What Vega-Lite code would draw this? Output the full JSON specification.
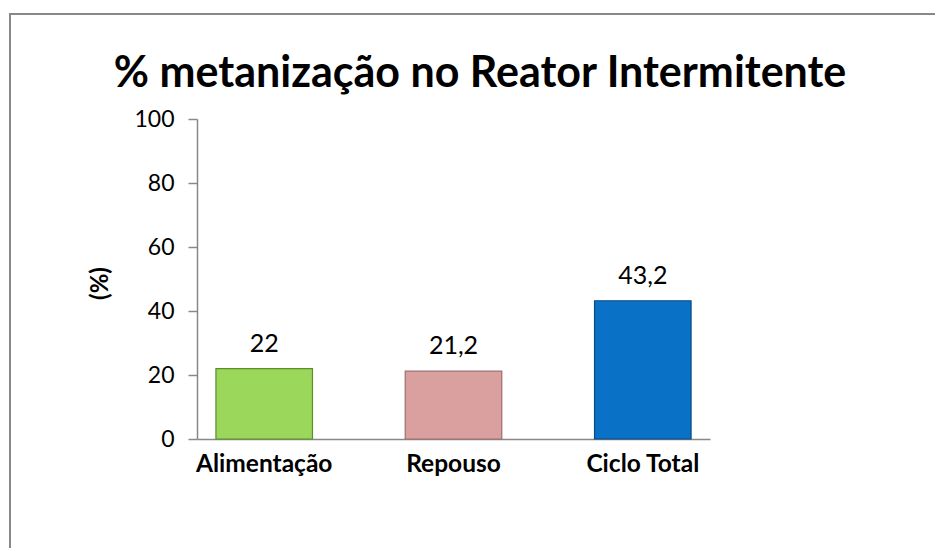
{
  "$schema": "https://vega.github.io/schema/vega-lite/v6.json",
  "width": 930,
  "height": 540,
  "padding": {"left": 10, "top": 14, "right": 0, "bottom": 0},
  "background": "white",
  "title": {
    "text": "% metanização no Reator Intermitente",
    "frame": "group",
    "anchor": "middle",
    "orient": "top",
    "offset": -72,
    "baseline": "alphabetic",
    "dx": 5,
    "dy": 44,
    "font": "Lato",
    "fontSize": 43,
    "fontWeight": "bold",
    "color": "black"
  },
  "data": {
    "values": [
      {"fase": "Alimentação", "valor": 22},
      {"fase": "Repouso", "valor": 21.2},
      {"fase": "Ciclo Total", "valor": 43.2}
    ]
  },
  "encoding": {
    "x": {
      "field": "fase",
      "type": "nominal",
      "sort": null,
      "scale": {"range": [187, 700], "paddingInner": 0.49, "paddingOuter": 0.1},
      "axis": {
        "title": null,
        "orient": "bottom",
        "offset": -115,
        "labelAngle": 0,
        "ticks": false,
        "domainColor": "#888888",
        "domainWidth": 1.5,
        "labelFont": "Lato",
        "labelFontSize": 24.5,
        "labelFontWeight": "bold",
        "labelColor": "black",
        "labelPadding": 13
      }
    },
    "y": {
      "field": "valor",
      "type": "quantitative",
      "scale": {"domain": [0, 100], "range": [425, 105], "nice": false, "zero": true},
      "axis": {
        "title": "(%)",
        "orient": "left",
        "offset": -187,
        "values": [0, 20, 40, 60, 80, 100],
        "grid": false,
        "tickSize": 9,
        "tickColor": "#888888",
        "tickWidth": 1.5,
        "domainColor": "#888888",
        "domainWidth": 1.5,
        "labelFont": "Lato",
        "labelFontSize": 23,
        "labelColor": "black",
        "labelPadding": 14,
        "titleFont": "Lato",
        "titleFontSize": 24,
        "titleFontWeight": "bold",
        "titleColor": "black",
        "titleX": -97,
        "titleY": 269,
        "titleAngle": -90,
        "titleAlign": "center",
        "titleBaseline": "middle"
      }
    }
  },
  "layer": [
    {
      "mark": {"type": "bar", "strokeWidth": 1.2},
      "encoding": {
        "color": {
          "field": "fase",
          "type": "nominal",
          "legend": null,
          "scale": {
            "domain": ["Alimentação", "Repouso", "Ciclo Total"],
            "range": ["#9BD75A", "#DAA09F", "#0A72C6"]
          }
        },
        "stroke": {
          "field": "fase",
          "type": "nominal",
          "legend": null,
          "scale": {
            "domain": ["Alimentação", "Repouso", "Ciclo Total"],
            "range": ["#5E8E2C", "#9E6E6D", "#0A4A85"]
          }
        }
      }
    },
    {
      "mark": {"type": "text", "baseline": "bottom", "dy": -12, "font": "Lato", "fontSize": 25, "color": "black"},
      "encoding": {
        "text": {"field": "valor", "type": "quantitative", "format": ",.3~r"}
      }
    }
  ],
  "config": {
    "locale": {
      "number": {"decimal": ",", "thousands": ".", "grouping": [3], "currency": ["", " €"]}
    },
    "view": {"stroke": "#888888", "strokeWidth": 2}
  }
}
